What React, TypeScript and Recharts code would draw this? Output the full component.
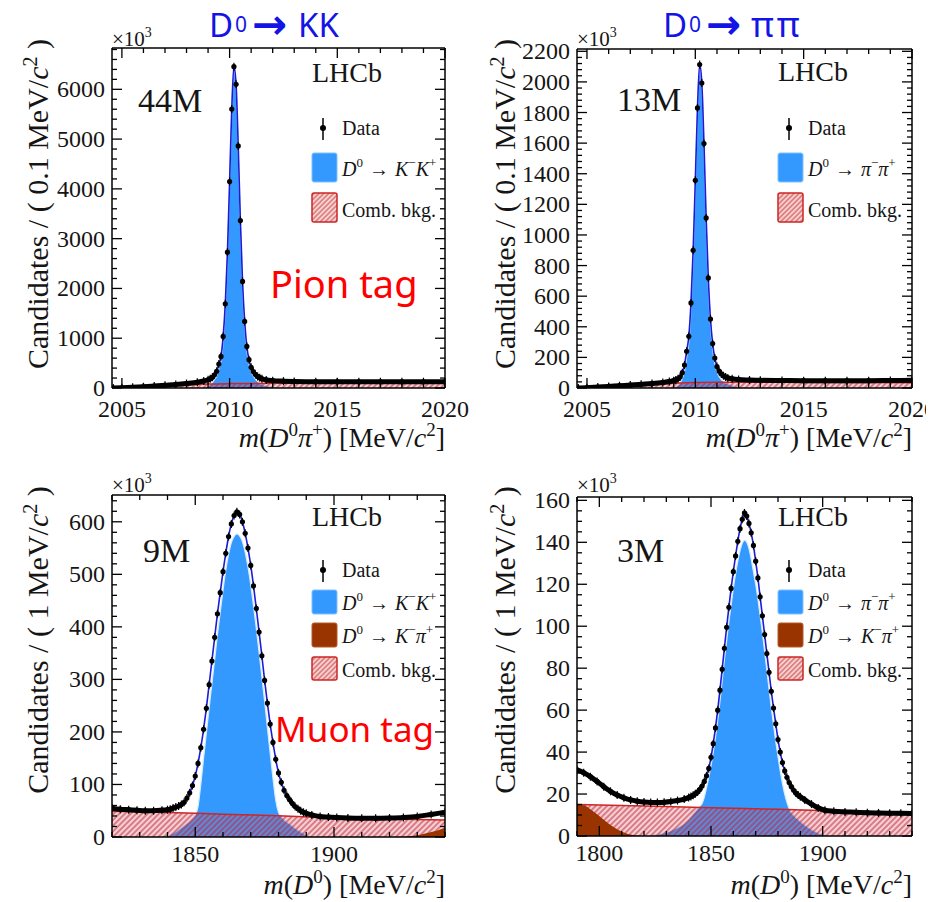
import React from 'react';
import { Area, ComposedChart, Line, Scatter, XAxis, YAxis } from 'recharts';

// ---------- D*+ -> D0 pi+ (pion tag), 0.1 MeV bins ----------
const pionTagMass = [
  2004.6, 2005.0, 2005.5, 2006.0, 2006.5, 2007.0, 2007.5, 2008.0, 2008.5, 2008.8,
  2009.0, 2009.1, 2009.2, 2009.3, 2009.4, 2009.5, 2009.6, 2009.7, 2009.8, 2009.9,
  2010.0, 2010.1, 2010.2, 2010.3, 2010.4, 2010.5, 2010.6, 2010.7, 2010.8, 2010.9,
  2011.0, 2011.1, 2011.2, 2011.3, 2011.4, 2011.5, 2011.7, 2012.0, 2012.5, 2013.0,
  2014.0, 2015.0, 2016.0, 2017.0, 2018.0, 2019.0, 2020.0,
];
const kkPionCands = [
  0, 5, 14, 25, 40, 55, 70, 90, 115, 140,
  165, 185, 215, 265, 334, 482, 635, 1037, 1692, 2729,
  4147, 5605, 6455, 6100, 4863, 3365, 2140, 1338, 836, 569,
  415, 330, 272, 232, 205, 185, 162, 148, 138, 132,
  127, 125, 124, 124, 125, 126, 128,
];
const ppPionCands = [
  0, 2, 6, 10, 15, 19, 24, 29, 36, 42,
  48, 53, 60, 72, 100, 150, 240, 338, 556, 900,
  1357, 1830, 2113, 1993, 1597, 1111, 719, 451, 290, 196,
  140, 110, 92, 80, 72, 66, 60, 55, 52, 50,
  49, 48, 48, 48, 48, 49, 50,
];
const pionSigMass = [
  2008.7, 2008.9, 2009.0, 2009.1, 2009.2, 2009.3, 2009.4, 2009.5, 2009.6, 2009.7,
  2009.8, 2009.9, 2010.0, 2010.1, 2010.2, 2010.3, 2010.4, 2010.5, 2010.6, 2010.7,
  2010.8, 2010.9, 2011.0, 2011.1, 2011.2, 2011.3, 2011.4, 2011.5, 2011.7, 2012.0,
  2012.3,
];
const kkPionSig = [
  0, 15, 40, 70, 110, 170, 240, 390, 540, 940,
  1600, 2640, 4060, 5510, 6360, 6010, 4770, 3270, 2050, 1245,
  745, 480, 325, 240, 180, 135, 100, 75, 45, 15,
  0,
];
const ppPionSig = [
  0, 3, 5, 10, 18, 35, 62, 110, 200, 300,
  515, 860, 1315, 1790, 2075, 1955, 1560, 1070, 680, 415,
  255, 160, 105, 75, 55, 42, 33, 28, 17, 6,
  0,
];
const pionCombMass = [2004.54, 2005, 2006, 2007, 2008, 2009, 2010, 2011, 2012, 2014, 2017, 2020];
const kkPionComb = [0, 4, 18, 40, 62, 80, 88, 92, 94, 95, 95, 95];
const ppPionComb = [0, 2, 8, 15, 23, 31, 36, 37, 37, 37, 36, 35];

// ---------- B -> D0 mu X (muon tag), 1 MeV bins ----------
const muonPeakMass = [
  1840, 1841, 1842, 1843, 1844, 1845, 1846, 1847, 1848, 1849,
  1850, 1851, 1852, 1853, 1854, 1855, 1856, 1857, 1858, 1859,
  1860, 1861, 1862, 1863, 1864, 1865, 1866, 1867, 1868, 1869,
  1870, 1871, 1872, 1873, 1874, 1875, 1876, 1877, 1878, 1879,
  1880, 1881, 1882, 1883, 1884, 1885, 1886, 1887, 1888, 1889,
  1890,
];
const muonRightMass = [1892, 1895, 1898, 1901, 1905, 1910, 1915, 1920, 1925, 1930, 1935, 1940];
const kkMuonLeftMass = [1820, 1823, 1826, 1829, 1832, 1835, 1838];
const ppMuonLeftMass = [
  1790, 1793, 1796, 1799, 1802, 1805, 1808, 1811, 1814, 1817,
  1820, 1823, 1826, 1829, 1832, 1835, 1838,
];
const kkMuonCands = [
  55, 53, 52, 51, 50, 50, 51,
  52, 53, 55, 57, 59, 62, 66, 74, 84, 98,
  116, 140, 170, 205, 245, 290, 335, 380, 425, 465,
  505, 540, 572, 596, 612, 619, 614, 600, 578, 550,
  517, 478, 435, 390, 345, 298, 255, 215, 180, 148,
  122, 104, 89, 79, 71, 64, 58, 54, 50, 47,
  45,
  42, 39, 38, 37, 36, 35.5, 35.5, 36, 37, 39, 43, 47,
];
const ppMuonCands = [
  31.5, 30.2, 28.3, 26, 23.5, 21.3, 19.5, 18.2, 17.2, 16.6,
  16.2, 16, 16, 16.1, 16.4, 16.9, 17.6,
  18.3, 18.8, 19.4, 20.1, 21, 22.2, 23.8, 26, 28.7, 32.2,
  37.5, 44, 51.5, 60, 69.5, 79.5, 89.5, 99.5, 109, 118,
  126, 133.5, 140.5, 146.5, 151, 154, 152.5, 149, 144.5, 138.5,
  131, 123, 114, 105, 96, 87, 78, 69, 61, 53.5,
  46, 40, 35, 31, 28, 25.5, 23.5, 21.8, 20.5, 19.5,
  18.7,
  17.2, 15.2, 13.4, 12.3, 11.8, 11.5, 11.3, 11.1, 11, 10.9, 10.8, 10.7,
];
const kkMuonSigMass = [
  1838, 1840, 1842, 1844, 1846, 1848,
  1849, 1850, 1851, 1852, 1853, 1854, 1855, 1856, 1857, 1858,
  1859, 1860, 1861, 1862, 1863, 1864, 1865, 1866, 1867, 1868,
  1869, 1870, 1871, 1872, 1873, 1874, 1875, 1876, 1877, 1878,
  1879, 1880, 1881, 1882,
  1884, 1886, 1888, 1890, 1892,
];
const kkMuonSig = [
  0, 2, 7, 14, 22, 30,
  35, 42, 58, 100, 150, 198, 245, 292, 338, 385,
  428, 470, 508, 538, 560, 572, 577, 573, 562, 542,
  514, 480, 440, 397, 352, 305, 258, 208, 160, 112,
  70, 47, 39, 33,
  25, 17, 10, 4, 0,
];
const ppMuonSigMass = [
  1822, 1826, 1830, 1834, 1838, 1840, 1842, 1844,
  1845, 1846, 1847, 1848, 1849, 1850, 1851, 1852, 1853, 1854,
  1855, 1856, 1857, 1858, 1859, 1860, 1861, 1862, 1863, 1864,
  1865, 1866, 1867, 1868, 1869, 1870, 1871, 1872, 1873, 1874,
  1875, 1876, 1877, 1878, 1879, 1880, 1881, 1882, 1883, 1884,
  1885,
  1887, 1890, 1893, 1896, 1899, 1903,
];
const ppMuonSig = [
  0, 0.8, 1.8, 3.5, 6, 8, 10.5, 13,
  14.2, 15.5, 18.5, 23, 28, 33.5, 40, 47, 55, 64,
  74, 84, 93, 102, 110, 118, 125, 131, 136, 139.5,
  141, 140, 137, 132, 126, 120, 113, 105, 97, 88,
  79, 70, 61, 53, 45, 38, 31, 25, 20, 16,
  13,
  10, 7, 4.5, 2.5, 1, 0,
];
const kkMuonCombMass = [1820, 1840, 1860, 1880, 1900, 1920, 1940];
const kkMuonComb = [49, 46.5, 43.5, 40.5, 36.5, 34.5, 32.5];
const ppMuonCombMass = [1790, 1820, 1850, 1880, 1910, 1940];
const ppMuonComb = [15, 14.3, 13.5, 12.7, 11.9, 11.1];
const kkMuonMisMass = [1920, 1925, 1928, 1931, 1934, 1937, 1940];
const kkMuonMis = [0, 0.5, 2, 4.5, 8, 12, 17];
const ppMuonMisMass = [1790, 1793, 1796, 1799, 1802, 1805, 1808, 1811, 1814, 1817, 1820];
const ppMuonMis = [15, 14.6, 12.8, 10.4, 7.8, 5.3, 3.2, 1.7, 0.7, 0.2, 0];

// ---------- axes ----------
const pionXMajor = [2005, 2010, 2015, 2020];
const kkMuonXMajor = [1850, 1900];
const ppMuonXMajor = [1800, 1850, 1900];
const kkPionYMajor = [0, 1000, 2000, 3000, 4000, 5000, 6000];
const ppPionYMajor = [0, 200, 400, 600, 800, 1000, 1200, 1400, 1600, 1800, 2000, 2200];
const kkMuonYMajor = [0, 100, 200, 300, 400, 500, 600];
const ppMuonYMajor = [0, 20, 40, 60, 80, 100, 120, 140, 160];

const SIGNAL = '#3399ff';
const FIT = '#1c1cd6';
const COMB_LINE = '#cc2626';
const MISID = '#993300';
const SERIF = 'Liberation Serif';
const INK = '#151515';

const YL = 50;
const YR = 6;
const XT = 6;
const XB = 40;

function steps(from: number, to: number, step: number) {
  const out: number[] = [];
  for (let v = from; v <= to + 1e-9; v += step) out.push(Math.round(v * 1000) / 1000);
  return out;
}

const rows = (x: number[], y: number[]) => x.map((v, i) => ({ x: v, y: y[i] }));
const isMajor = (v: number, majors: number[]) => majors.some((m) => Math.abs(m - v) < 1e-6);

function xTick(majors: number[], side: 'bottom' | 'top', drop: number) {
  return (props: any) => {
    const { x, y, payload } = props;
    const major = isMajor(payload.value, majors);
    const len = major ? 10 : 5;
    const dir = side === 'bottom' ? -1 : 1;
    return (
      <g>
        <line x1={x} x2={x} y1={y} y2={y + dir * len} stroke="#000" strokeWidth={1.3} />
        {side === 'bottom' && major ? (
          <text x={x} y={y + drop} textAnchor="middle" fontFamily={SERIF} fontSize={24} fill={INK}>
            {payload.value}
          </text>
        ) : null}
      </g>
    );
  };
}

function yTick(majors: number[], side: 'left' | 'right') {
  return (props: any) => {
    const { x, y, payload } = props;
    const major = isMajor(payload.value, majors);
    const len = major ? 10 : 5;
    const dir = side === 'left' ? 1 : -1;
    return (
      <g>
        <line x1={x} x2={x + dir * len} y1={y} y2={y} stroke="#000" strokeWidth={1.3} />
        {side === 'left' && major ? (
          <text x={x - 7} y={y + 8} textAnchor="end" fontFamily={SERIF} fontSize={24} fill={INK}>
            {payload.value}
          </text>
        ) : null}
      </g>
    );
  };
}

const DataPoint = (props: any) => {
  const { cx, cy } = props;
  if (cx == null || cy == null) return <g />;
  return (
    <g>
      <line x1={cx} x2={cx} y1={cy - 4} y2={cy + 4} stroke="#000" strokeWidth={1.2} />
      <circle cx={cx} cy={cy} r={2.6} fill="#000" />
    </g>
  );
};

interface PanelProps {
  id: string;
  box: [number, number, number, number];
  frame: [number, number, number, number];
  xDomain: [number, number];
  yMax: number;
  xMajor: number[];
  xMinor: number[];
  yMajor: number[];
  yMinor: number[];
  drop: number;
  mass: number[];
  cands: number[];
  sigMass: number[];
  sig: number[];
  combMass: number[];
  comb: number[];
  misMass?: number[];
  mis?: number[];
  bandLo: number;
  bandHi: number;
}

function Panel(p: PanelProps) {
  const [bx, by, bw, bh] = p.box;
  const [fl, ft, fr, fb] = p.frame;
  const margin = {
    left: fl - bx - YL,
    top: ft - by - XT,
    right: bx + bw - fr - YR,
    bottom: by + bh - fb - XB,
  };
  const dataRows = rows(p.mass, p.cands);
  const bandRows = p.mass.map((x, i) => ({
    x,
    y: x <= p.bandLo || x >= p.bandHi ? p.cands[i] : null,
  }));
  const sigRows = rows(p.sigMass, p.sig);
  const combRows = rows(p.combMass, p.comb);
  const misRows = p.misMass && p.mis ? rows(p.misMass, p.mis) : null;
  const hatchId = `hatch-${p.id}`;
  const frameLine = { stroke: '#000', strokeWidth: 1.5 };
  const xAxisCommon = {
    type: 'number' as const,
    dataKey: 'x',
    domain: p.xDomain,
    allowDataOverflow: true,
    ticks: p.xMinor,
    interval: 0 as const,
    tickSize: 0,
    tickMargin: 0,
    tickLine: false,
    axisLine: frameLine,
  };
  const yAxisCommon = {
    type: 'number' as const,
    domain: [0, p.yMax],
    allowDataOverflow: true,
    ticks: p.yMinor,
    interval: 0 as const,
    tickSize: 0,
    tickMargin: 0,
    tickLine: false,
    axisLine: frameLine,
  };

  return (
    <div style={{ position: 'absolute', left: bx, top: by, width: bw, height: bh, overflow: 'hidden' }}>
      <ComposedChart width={bw} height={bh} margin={margin}>
        <defs>
          <pattern id={hatchId} patternUnits="userSpaceOnUse" width={4} height={4} patternTransform="rotate(45)">
            <rect width={4} height={4} fill="rgba(220,90,110,0.28)" />
            <line x1={2} y1={0} x2={2} y2={4} stroke="rgba(190,30,40,0.75)" strokeWidth={1.3} />
          </pattern>
        </defs>
        <XAxis xAxisId="b" orientation="bottom" height={XB} tick={xTick(p.xMajor, 'bottom', p.drop)} {...xAxisCommon} />
        <XAxis xAxisId="t" orientation="top" height={XT} tick={xTick(p.xMajor, 'top', 0)} {...xAxisCommon} />
        <YAxis yAxisId="l" orientation="left" width={YL} tick={yTick(p.yMajor, 'left')} {...yAxisCommon} />
        <YAxis yAxisId="r" orientation="right" width={YR} tick={yTick(p.yMajor, 'right')} {...yAxisCommon} />
        <Area
          xAxisId="b"
          yAxisId="l"
          data={sigRows}
          dataKey="y"
          type="monotone"
          fill={SIGNAL}
          fillOpacity={1}
          stroke="#d6eaff"
          strokeWidth={1.2}
          isAnimationActive={false}
        />
        <Area
          xAxisId="b"
          yAxisId="l"
          data={combRows}
          dataKey="y"
          type="monotone"
          fill={`url(#${hatchId})`}
          fillOpacity={1}
          stroke={COMB_LINE}
          strokeWidth={1.5}
          isAnimationActive={false}
        />
        {misRows ? (
          <Area
            xAxisId="b"
            yAxisId="l"
            data={misRows}
            dataKey="y"
            type="monotone"
            fill={MISID}
            fillOpacity={1}
            stroke="none"
            isAnimationActive={false}
          />
        ) : null}
        <Line
          xAxisId="b"
          yAxisId="l"
          data={dataRows}
          dataKey="y"
          type="monotone"
          stroke={FIT}
          strokeWidth={1.6}
          dot={false}
          isAnimationActive={false}
        />
        <Line
          xAxisId="b"
          yAxisId="l"
          data={bandRows}
          dataKey="y"
          type="monotone"
          stroke="#000"
          strokeWidth={5}
          dot={false}
          connectNulls={false}
          isAnimationActive={false}
        />
        <Scatter
          xAxisId="b"
          yAxisId="l"
          data={dataRows}
          dataKey="y"
          shape={DataPoint}
          isAnimationActive={false}
        />
      </ComposedChart>
    </div>
  );
}

function Decay({ x, y, a, b }: { x: number; y: number; a: string; b: string }) {
  return (
    <text x={x} y={y} fontFamily={SERIF} fontSize={20} fill={INK}>
      <tspan fontStyle="italic">D</tspan>
      <tspan fontSize={13} dy={-9}>0</tspan>
      <tspan dy={9} dx={6}>{'\u2192'}</tspan>
      <tspan dx={6} fontStyle="italic">{a}</tspan>
      <tspan fontSize={13} dy={-9}>{'\u2212'}</tspan>
      <tspan dy={9} fontStyle="italic">{b}</tspan>
      <tspan fontSize={13} dy={-9}>+</tspan>
    </text>
  );
}

function Legend({ x, y, a, b, misid }: { x: number; y: number; a: string; b: string; misid: boolean }) {
  // x: left of the boxes, y: centre of the Data marker
  const rowsY = misid ? [y + 20, y + 53, y + 87] : [y + 25, y + 65];
  const textX = x + 30;
  return (
    <g>
      <line x1={x + 11} x2={x + 11} y1={y - 10} y2={y + 12} stroke="#000" strokeWidth={1.5} />
      <circle cx={x + 11} cy={y} r={3} fill="#000" />
      <text x={textX} y={y + 7} fontFamily={SERIF} fontSize={20} fill={INK}>Data</text>
      <rect x={x} y={rowsY[0]} width={25} height={misid ? 24 : 29} rx={2} fill={SIGNAL} stroke="#7fc0ff" strokeWidth={1} />
      <Decay x={textX} y={rowsY[0] + (misid ? 20 : 23)} a={a} b={b} />
      {misid ? (
        <g>
          <rect x={x} y={rowsY[1]} width={25} height={24} rx={2} fill={MISID} stroke="#b55a2a" strokeWidth={1} />
          <Decay x={textX} y={rowsY[1] + 20} a="K" b={'\u03c0'} />
        </g>
      ) : null}
      <rect
        x={x}
        y={misid ? rowsY[2] : rowsY[1]}
        width={25}
        height={misid ? 23 : 29}
        rx={2}
        fill="url(#legend-hatch)"
        stroke={COMB_LINE}
        strokeWidth={1.5}
      />
      <text x={textX} y={(misid ? rowsY[2] : rowsY[1]) + (misid ? 20 : 24)} fontFamily={SERIF} fontSize={20} fill={INK}>
        Comb. bkg.
      </text>
    </g>
  );
}

function YTitle({ x, y, bin }: { x: number; y: number; bin: string }) {
  return (
    <text transform={`translate(${x},${y}) rotate(-90)`} textAnchor="middle" fontFamily={SERIF} fontSize={30} fill={INK}>
      {`Candidates / ( ${bin} MeV/`}
      <tspan fontStyle="italic">c</tspan>
      <tspan fontSize={20} dy={-11}>2</tspan>
      <tspan dy={11}>{' )'}</tspan>
    </text>
  );
}

function XTitle({ x, y, withPion }: { x: number; y: number; withPion: boolean }) {
  return (
    <text x={x} y={y} textAnchor="end" fontFamily={SERIF} fontSize={28} fill={INK}>
      <tspan fontStyle="italic">m</tspan>
      <tspan>(</tspan>
      <tspan fontStyle="italic">D</tspan>
      <tspan fontSize={19} dy={-11}>0</tspan>
      {withPion ? (
        <>
          <tspan dy={11} fontStyle="italic">{'\u03c0'}</tspan>
          <tspan fontSize={19} dy={-11}>+</tspan>
        </>
      ) : null}
      <tspan dy={11}>{') [MeV/'}</tspan>
      <tspan fontStyle="italic">c</tspan>
      <tspan fontSize={19} dy={-11}>2</tspan>
      <tspan dy={11}>]</tspan>
    </text>
  );
}

function Times10({ x, y }: { x: number; y: number }) {
  return (
    <text x={x} y={y} fontFamily={SERIF} fontSize={21} fill={INK}>
      {'\u00d710'}
      <tspan fontSize={14} dy={-9}>3</tspan>
    </text>
  );
}

export default function App() {
  return (
    <div style={{ position: 'absolute', left: 0, top: 0, width: 948, height: 902, overflow: 'hidden', background: '#fff' }}>
      <Panel
        id="kkpi"
        box={[0, 0, 470, 450]}
        frame={[112, 48, 445, 388]}
        xDomain={[2004.54, 2020]}
        yMax={6830}
        xMajor={pionXMajor}
        xMinor={steps(2005, 2020, 1)}
        yMajor={kkPionYMajor}
        yMinor={steps(0, 6800, 200)}
        drop={29}
        mass={pionTagMass}
        cands={kkPionCands}
        sigMass={pionSigMass}
        sig={kkPionSig}
        combMass={pionCombMass}
        comb={kkPionComb}
        bandLo={2009.2}
        bandHi={2011.3}
      />
      <Panel
        id="pppi"
        box={[480, 0, 446, 450]}
        frame={[577, 49, 912, 388]}
        xDomain={[2004.54, 2020]}
        yMax={2215}
        xMajor={pionXMajor}
        xMinor={steps(2005, 2020, 1)}
        yMajor={ppPionYMajor}
        yMinor={steps(0, 2200, 40)}
        drop={29}
        mass={pionTagMass}
        cands={ppPionCands}
        sigMass={pionSigMass}
        sig={ppPionSig}
        combMass={pionCombMass}
        comb={ppPionComb}
        bandLo={2009.2}
        bandHi={2011.3}
      />
      <Panel
        id="kkmu"
        box={[0, 455, 470, 440]}
        frame={[112, 495, 445, 837]}
        xDomain={[1820, 1940]}
        yMax={651}
        xMajor={kkMuonXMajor}
        xMinor={steps(1820, 1940, 10)}
        yMajor={kkMuonYMajor}
        yMinor={steps(0, 640, 20)}
        drop={25}
        mass={[...kkMuonLeftMass, ...muonPeakMass, ...muonRightMass]}
        cands={kkMuonCands}
        sigMass={kkMuonSigMass}
        sig={kkMuonSig}
        combMass={kkMuonCombMass}
        comb={kkMuonComb}
        misMass={kkMuonMisMass}
        mis={kkMuonMis}
        bandLo={1843}
        bandHi={1888}
      />
      <Panel
        id="ppmu"
        box={[480, 455, 446, 440]}
        frame={[577, 497, 912, 836]}
        xDomain={[1790, 1940]}
        yMax={161.6}
        xMajor={ppMuonXMajor}
        xMinor={steps(1790, 1940, 10)}
        yMajor={ppMuonYMajor}
        yMinor={steps(0, 160, 5)}
        drop={25}
        mass={[...ppMuonLeftMass, ...muonPeakMass, ...muonRightMass]}
        cands={ppMuonCands}
        sigMass={ppMuonSigMass}
        sig={ppMuonSig}
        combMass={ppMuonCombMass}
        comb={ppMuonComb}
        misMass={ppMuonMisMass}
        mis={ppMuonMis}
        bandLo={1844}
        bandHi={1888}
      />
      <svg width={948} height={902} style={{ position: 'absolute', left: 0, top: 0, pointerEvents: 'none' }}>
        <defs>
          <pattern id="legend-hatch" patternUnits="userSpaceOnUse" width={3.5} height={3.5} patternTransform="rotate(45)">
            <rect width={3.5} height={3.5} fill="#f6d2d2" />
            <line x1={1.75} y1={0} x2={1.75} y2={3.5} stroke="#cc4444" strokeWidth={1} />
          </pattern>
        </defs>

        {/* column titles */}
        <text fontFamily="Noto Sans" fill="#1414e6">
          <tspan x={209} y={37} fontSize={33}>D</tspan>
          <tspan x={235} y={32} fontSize={21}>0</tspan>
          <tspan x={252} y={39} fontSize={42} fontFamily="DejaVu Sans" fontWeight="bold">{'\u2192'}</tspan>
          <tspan x={298} y={37} fontSize={33}>KK</tspan>
        </text>
        <text fontFamily="Noto Sans" fill="#1414e6">
          <tspan x={663} y={37} fontSize={33}>D</tspan>
          <tspan x={689} y={32} fontSize={21}>0</tspan>
          <tspan x={706} y={39} fontSize={42} fontFamily="DejaVu Sans" fontWeight="bold">{'\u2192'}</tspan>
          <tspan x={751} y={37} fontSize={35} letterSpacing={3}>{'\u03c0\u03c0'}</tspan>
        </text>

        {/* multipliers */}
        <Times10 x={112} y={46} />
        <Times10 x={577} y={46} />
        <Times10 x={112} y={492} />
        <Times10 x={577} y={492} />

        {/* LHCb labels and yields */}
        <text x={312} y={82} fontFamily={SERIF} fontSize={28} fill={INK}>LHCb</text>
        <text x={778} y={81} fontFamily={SERIF} fontSize={28} fill={INK}>LHCb</text>
        <text x={312} y={526} fontFamily={SERIF} fontSize={28} fill={INK}>LHCb</text>
        <text x={778} y={526} fontFamily={SERIF} fontSize={28} fill={INK}>LHCb</text>
        <text x={138} y={112} fontFamily={SERIF} fontSize={34} fill={INK}>44M</text>
        <text x={617} y={111} fontFamily={SERIF} fontSize={34} fill={INK}>13M</text>
        <text x={143} y={562} fontFamily={SERIF} fontSize={34} fill={INK}>9M</text>
        <text x={617} y={562} fontFamily={SERIF} fontSize={34} fill={INK}>3M</text>

        {/* legends */}
        <Legend x={312} y={128} a="K" b="K" misid={false} />
        <Legend x={778} y={128} a={'\u03c0'} b={'\u03c0'} misid={false} />
        <Legend x={312} y={570} a="K" b="K" misid={true} />
        <Legend x={778} y={570} a={'\u03c0'} b={'\u03c0'} misid={true} />

        {/* axis titles */}
        <YTitle x={48} y={204} bin="0.1" />
        <YTitle x={515} y={204} bin="0.1" />
        <YTitle x={48} y={640} bin="1" />
        <YTitle x={515} y={640} bin="1" />
        <XTitle x={445} y={447} withPion={true} />
        <XTitle x={912} y={447} withPion={true} />
        <XTitle x={445} y={894} withPion={false} />
        <XTitle x={912} y={894} withPion={false} />

        {/* tag annotations */}
        <text x={270} y={298} fontFamily="Noto Sans" fontSize={38} fill="#ff0000">Pion tag</text>
        <text x={275} y={742} fontFamily="Noto Sans" fontSize={35} fill="#ff0000">Muon tag</text>
      </svg>
    </div>
  );
}
